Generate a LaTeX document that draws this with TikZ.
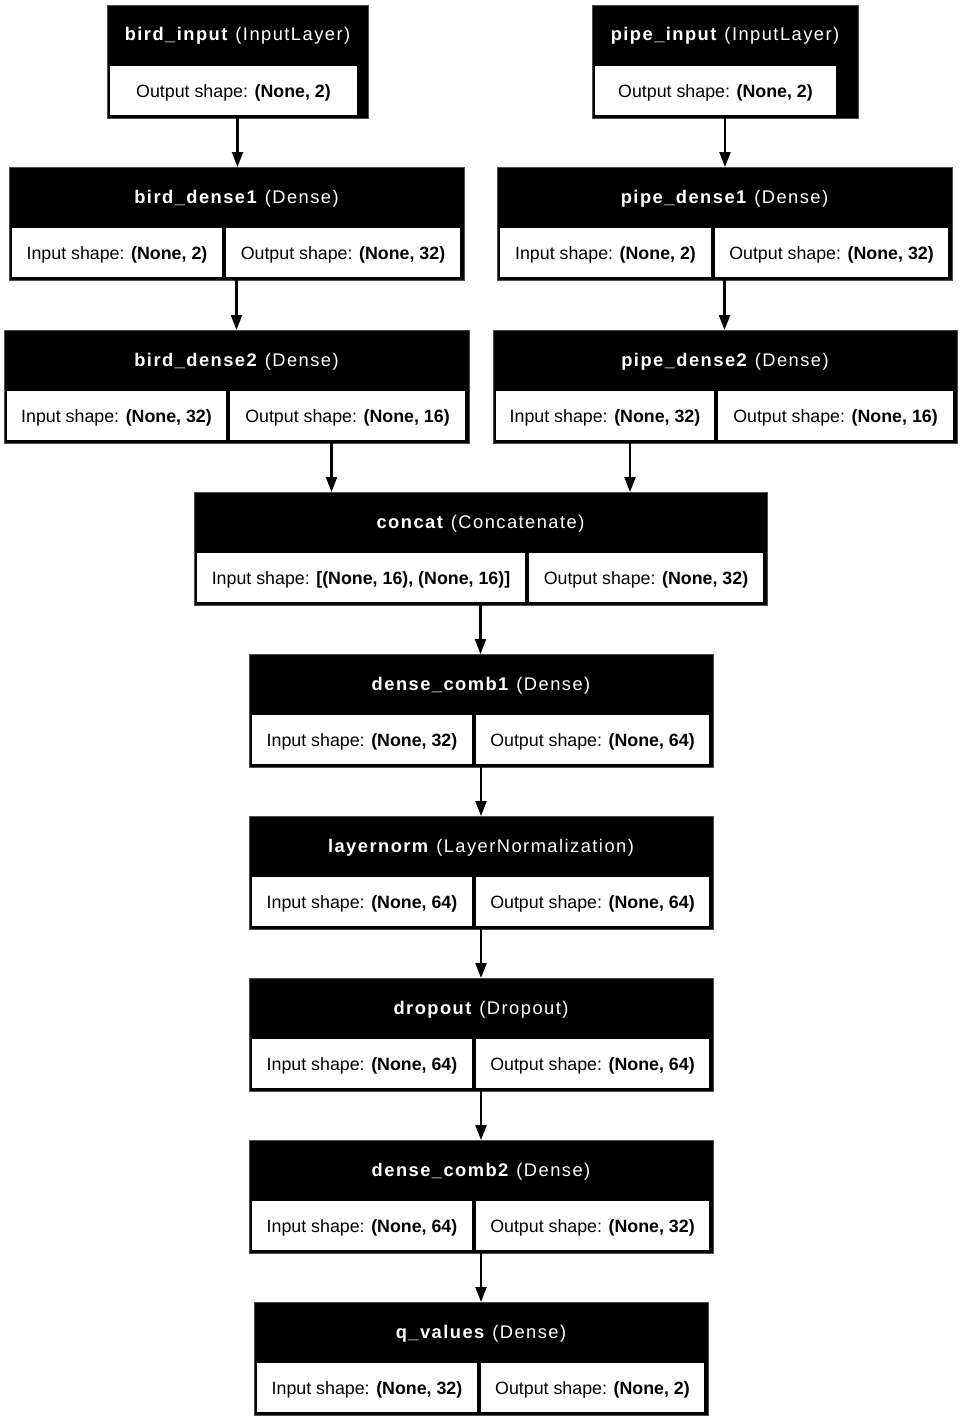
\documentclass[tikz,border=0pt]{standalone}
\usepackage{fontspec}
\setmainfont{Liberation Sans}
\newfontfamily\ttlfont[LetterSpace=8]{Liberation Sans}
\usetikzlibrary{arrows.meta}
\tikzset{
  outerbox/.style={fill=black, draw=black!70, line width=0.6pt, inner sep=0pt, outer sep=0pt},
  cellbox/.style={fill=white, draw=none, inner sep=0pt, outer sep=0pt, text height=13pt, text depth=0pt, font=\fontsize{17.8}{20}\selectfont, minimum height=49pt, anchor=north west},
  ttltxt/.style={text=white, inner sep=0pt, text height=13pt, text depth=0pt, font=\ttlfont\fontsize{18.3}{20}\selectfont},
  arr/.style={line width=2.2pt, -{Triangle[length=15pt,width=11pt]}},
}
\newcommand\onelayer[8]{%
  \node[outerbox, anchor=north west, minimum width={#3-#2}, minimum height=113pt] (#1) at (#2,#4) {};
  \node[ttltxt] (#1t) at ({(#2+#3)/2},{#4+29.5}) {\textbf{#5} #6};
  \node[cellbox, minimum width={#8-#2-3}] (#1o) at ({#2+3},{#4+61}) {Output shape: \textbf{#7}};
}
\newcommand\twolayer[9]{%
  \node[outerbox, anchor=north west, minimum width={#4-#2}, minimum height=113pt] (#1) at (#2,#5) {};
  \node[ttltxt] (#1t) at ({(#2+#4)/2},{#5+29.5}) {\textbf{#6} #7};
  \node[cellbox, minimum width={#3-#2-3}] (#1i) at ({#2+3},{#5+61}) {Input shape: \textbf{#8}};
  \node[cellbox, minimum width={#4-#3-8}] (#1o) at ({#3+4},{#5+61}) {Output shape: \textbf{#9}};
}
\begin{document}
\begin{tikzpicture}[x=1pt,y=-1pt]
\useasboundingbox[fill=white] (0,0) rectangle (962,1421);
\onelayer{bi}{107}{368}{5}{bird\_input}{(InputLayer)}{(None, 2)}{357}
\onelayer{pi}{592}{858}{5}{pipe\_input}{(InputLayer)}{(None, 2)}{836}
\twolayer{bda}{9}{222}{464}{167}{bird\_dense1}{(Dense)}{(None, 2)}{(None, 32)}
\twolayer{pda}{497}{711}{952}{167}{pipe\_dense1}{(Dense)}{(None, 2)}{(None, 32)}
\twolayer{bdb}{4}{226}{469}{330}{bird\_dense2}{(Dense)}{(None, 32)}{(None, 16)}
\twolayer{pdb}{493}{714}{957}{330}{pipe\_dense2}{(Dense)}{(None, 32)}{(None, 16)}
\twolayer{cc}{194}{525}{767}{492}{concat}{(Concatenate)}{[(None, 16), (None, 16)]}{(None, 32)}
\twolayer{dca}{249}{472}{713}{654}{dense\_comb1}{(Dense)}{(None, 32)}{(None, 64)}
\twolayer{ln}{249}{472}{713}{816}{layernorm}{(LayerNormalization)}{(None, 64)}{(None, 64)}
\twolayer{dp}{249}{472}{713}{978}{dropout}{(Dropout)}{(None, 64)}{(None, 64)}
\twolayer{dcb}{249}{472}{713}{1140}{dense\_comb2}{(Dense)}{(None, 64)}{(None, 32)}
\twolayer{qv}{254}{477}{708}{1302}{q\_values}{(Dense)}{(None, 32)}{(None, 2)}
% connectors
\draw[arr] (bi.south) -- (bi.south |- bda.north);
\draw[arr] (pi.south) -- (pi.south |- pda.north);
\draw[arr] (bda.south) -- (bda.south |- bdb.north);
\draw[arr] (pda.south) -- (pda.south |- pdb.north);
\draw[arr] ([xshift=95pt]bdb.south) -- ([xshift=95pt]bdb.south |- cc.north);
\draw[arr] ([xshift=-95pt]pdb.south) -- ([xshift=-95pt]pdb.south |- cc.north);
\draw[arr] (cc.south) -- (cc.south |- dca.north);
\draw[arr] (dca.south) -- (dca.south |- ln.north);
\draw[arr] (ln.south) -- (ln.south |- dp.north);
\draw[arr] (dp.south) -- (dp.south |- dcb.north);
\draw[arr] (dcb.south) -- (dcb.south |- qv.north);
\end{tikzpicture}
\end{document}
